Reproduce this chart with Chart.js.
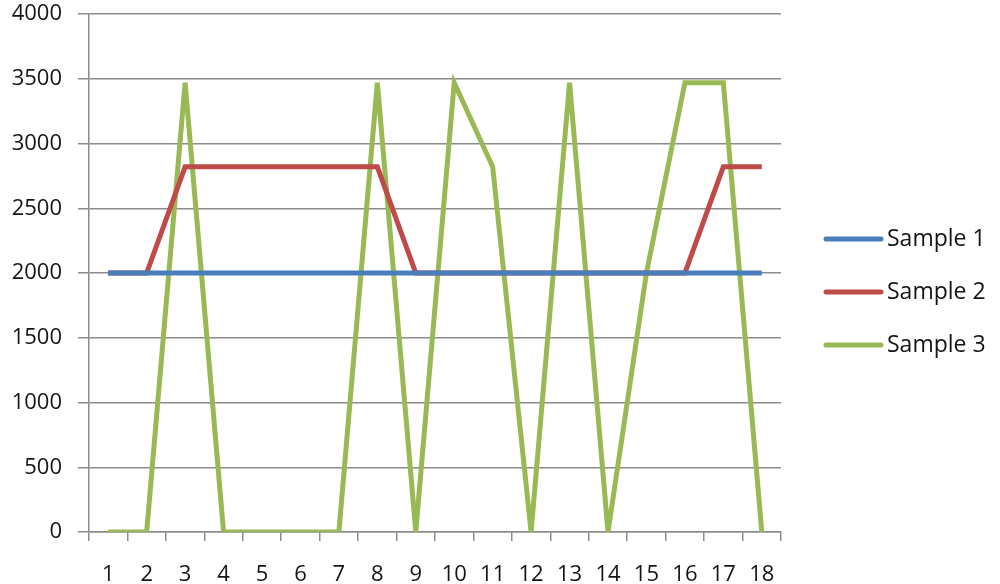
<!DOCTYPE html>
<html><head><meta charset="utf-8">
<script src="https://cdn.jsdelivr.net/npm/chart.js@4"></script>
<style>html,body{margin:0;padding:0;background:#fff}#w{width:1000px;height:584px}</style>
</head><body><div id="w"><canvas id="c"></canvas></div>
<script>
const categories = ['1','2','3','4','5','6','7','8','9','10','11','12','13','14','15','16','17','18'];
const sample1 = [2000,2000,2000,2000,2000,2000,2000,2000,2000,2000,2000,2000,2000,2000,2000,2000,2000,2000];
const sample2 = [2000,2000,2820,2820,2820,2820,2820,2820,2000,2000,2000,2000,2000,2000,2000,2000,2820,2820];
const sample3 = [0,0,3470,0,0,0,0,3470,0,3470,2820,0,3470,0,2000,3470,3470,0];
const seriesNames = ['Sample 1','Sample 2','Sample 3'];
const colors = ['#4A7EBB','#BE4B48','#98B954'];
const FONT = 'Open Sans';
const TXT = '#151515';
const grid = '#8c8c8c';
const ds = [sample1, sample2, sample3].map((d,i)=>({
  label: seriesNames[i], data: d, borderColor: colors[i], backgroundColor: colors[i],
  borderWidth: 5, pointRadius: 0, tension: 0, fill: false
}));
const sideLegend = {
  id: 'sideLegend',
  afterDraw(chart) {
    const ctx = chart.ctx;
    ctx.save();
    ctx.font = '23px "' + FONT + '"';
    ctx.textBaseline = 'middle';
    ctx.textAlign = 'left';
    const y0 = 239, step = 53;
    chart.data.datasets.forEach((d,i)=>{
      const y = y0 + i*step;
      ctx.strokeStyle = d.borderColor;
      ctx.lineWidth = 5;
      ctx.lineCap = 'round';
      ctx.beginPath(); ctx.moveTo(826, y); ctx.lineTo(881, y); ctx.stroke();
      ctx.fillStyle = TXT;
      ctx.fillText(d.label, 887, y);
    });
    ctx.restore();
  }
};
new Chart(document.getElementById('c'), {
  type: 'line',
  data: { labels: categories, datasets: ds },
  plugins: [sideLegend],
  options: {
    responsive: true, maintainAspectRatio: false, animation: false,
    layout: { padding: { top: 14, right: 219, left: 0, bottom: 0 } },
    plugins: { tooltip: { enabled: false }, legend: { display: false } },
    scales: {
      x: {
        offset: true,
        afterFit(s) { s.height = 52; s.paddingLeft = 0; s.paddingRight = 0; },
        grid: { offset: true, drawOnChartArea: false, drawTicks: true, tickLength: 9, color: grid, lineWidth: 1.5 },
        border: { color: grid, width: 1.5 },
        ticks: { color: TXT, font: { family: FONT, size: 22 }, padding: 21, maxRotation: 0, autoSkip: false }
      },
      y: {
        min: 0, max: 4000,
        afterFit(s) { s.width = 89; s.paddingTop = 0; s.paddingBottom = 0; },
        grid: { color: grid, lineWidth: 1.5, tickLength: 11 },
        border: { color: grid, width: 1.5 },
        ticks: { stepSize: 500, color: TXT, font: { family: FONT, size: 22 }, padding: 16, callback: v => String(v) }
      }
    }
  }
});
</script></body></html>
